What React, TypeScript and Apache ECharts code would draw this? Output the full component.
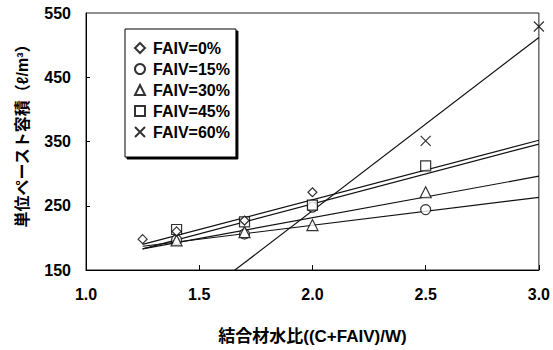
import React, { useEffect, useRef } from "react";
import * as echarts from "echarts";

// Measured points: binder-water ratio (x) vs unit paste volume (y)
const seriesNames = ["FAIV=0%", "FAIV=15%", "FAIV=30%", "FAIV=45%", "FAIV=60%"];

const x0 = [1.25, 1.4, 1.7, 2.0];
const y0 = [198, 210, 227, 271];

const x15 = [1.4, 1.7, 2.0, 2.5];
const y15 = [197, 206, 248, 244];

const x30 = [1.4, 1.7, 2.0, 2.5];
const y30 = [196, 209, 220, 271];

const x45 = [1.4, 1.7, 2.0, 2.5];
const y45 = [213, 225, 251, 312];

const x60 = [2.0, 2.5, 3.0];
const y60 = [251, 351, 529];

// Regression line end points (x = 1.25 and x = 3.0)
const trendX = [1.25, 3.0];
const trend0 = [190, 352];
const trend15 = [187, 263];
const trend30 = [183, 296];
const trend45 = [183, 346];
const trend60 = [40, 512];

// Axis labels
const xTicks = [1.0, 1.5, 2.0, 2.5, 3.0];
const yLabelValues = [150, 250, 350, 450, 550];
const yTickValues = [250, 350, 450];
const yTitle = "単位ペースト容積（ℓ/m³）";
const xTitle = "結合材水比((C+FAIV)/W)";

const FONT = "'Liberation Sans', 'Noto Sans CJK JP', sans-serif";
const CROSS = "path://M0,0L10,10M10,0L0,10";

const symbols = ["diamond", "circle", "triangle", "rect", CROSS];
const symbolSizes = [9, 10, 11, 10, 10];
// draw order of the marker series (cross underneath)
const markerZ = [5, 4, 4, 4, 3];

const pairs = (xs: number[], ys: number[]) => xs.map((x, i) => [x, ys[i]]);

export default function App() {
  const ref = useRef<HTMLDivElement>(null);

  useEffect(() => {
    if (!ref.current) return;
    const chart = echarts.init(ref.current, undefined, { renderer: "svg" });

    const pointSets = [
      pairs(x0, y0),
      pairs(x15, y15),
      pairs(x30, y30),
      pairs(x45, y45),
      pairs(x60, y60),
    ];
    const trends = [trend0, trend15, trend30, trend45, trend60];

    const lineSeries = trends.map((t, i) => ({
      type: "line",
      name: "trend" + i,
      data: pairs(trendX, t),
      showSymbol: false,
      symbol: "none",
      clip: true,
      silent: true,
      z: 1,
      lineStyle: { color: "#111", width: 1.2 },
    }));

    const scatterSeries = pointSets.map((pts, i) => ({
      type: "scatter",
      name: seriesNames[i],
      data: pts,
      symbol: symbols[i],
      symbolSize: symbolSizes[i],
      z: markerZ[i],
      itemStyle: {
        color: "#fff",
        borderColor: "#000",
        borderWidth: 1.2,
      },
    }));

    chart.setOption({
      animation: false,
      backgroundColor: "#fff",
      textStyle: { fontFamily: FONT },
      grid: { left: 86, right: 11, top: 13, bottom: 76, show: true, borderColor: "#222", borderWidth: 1 },
      legend: {
        data: seriesNames,
        orient: "vertical",
        left: 125,
        top: 29,
        padding: [11, 6, 17, 9],
        itemWidth: 10,
        itemHeight: 10,
        itemGap: 5,
        backgroundColor: "#fff",
        borderColor: "#000",
        borderWidth: 1,
        shadowColor: "#000",
        shadowOffsetX: 2,
        shadowOffsetY: 2,
        shadowBlur: 0,
        textStyle: { fontFamily: FONT, fontSize: 16, fontWeight: "bold", color: "#000", padding: [0, 0, 0, 3] },
      },
      graphic: [
        {
          type: "text",
          x: 22,
          y: 132,
          rotation: Math.PI / 2,
          style: {
            text: yTitle,
            fontFamily: FONT,
            fontSize: 16,
            fontWeight: "bold",
            fill: "#000",
            align: "center",
            verticalAlign: "middle",
          },
        },
      ],
      xAxis: {
        type: "value",
        min: 1.0,
        max: 3.0,
        interval: 0.5,
        name: xTitle,
        nameLocation: "middle",
        nameGap: 58,
        nameTextStyle: { fontFamily: FONT, fontSize: 17, fontWeight: "bold", color: "#000" },
        axisLine: { show: true, lineStyle: { color: "#000", width: 1 } },
        axisTick: { show: true, inside: true, length: 5, lineStyle: { color: "#000" } },
        axisLabel: {
          customValues: xTicks,
          formatter: (v: number) => v.toFixed(1),
          margin: 16,
          fontFamily: FONT,
          fontSize: 16,
          fontWeight: "bold",
          color: "#000",
        },
        splitLine: { show: false },
      },
      yAxis: {
        type: "value",
        min: 150,
        max: 550,
        axisLine: { show: true, lineStyle: { color: "#000", width: 1 } },
        axisTick: { show: true, inside: true, length: 4, customValues: yTickValues, lineStyle: { color: "#000" } },
        axisLabel: {
          customValues: yLabelValues,
          margin: 15,
          fontFamily: FONT,
          fontSize: 16,
          fontWeight: "bold",
          color: "#000",
        },
        splitLine: { show: false },
      },
      series: [...lineSeries, ...scatterSeries],
    });

    return () => chart.dispose();
  }, []);

  return (
    <div
      ref={ref}
      style={{ position: "fixed", left: 0, top: 0, width: 553, height: 350 }}
    />
  );
}
